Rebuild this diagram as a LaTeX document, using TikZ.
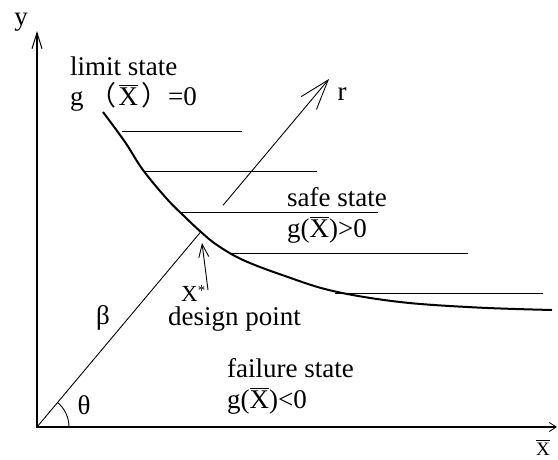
\documentclass[tikz,border=0pt]{standalone}
\usepackage{fontspec}
\setmainfont{Liberation Serif}
\newfontfamily\cjk{Noto Sans CJK SC}
\usetikzlibrary{arrows.meta,calc}
\newcommand{\Xbar}{\leavevmode\vbox{\hrule height 0.9pt\kern 1.6pt\hbox{X}}}
\begin{document}
\begin{tikzpicture}[x=1pt,y=-1pt,
  lbl/.style={font=\fontsize{27}{30}\selectfont, inner sep=0pt, anchor=base west},
  sym/.style={font=\fontsize{27}{30}\selectfont, inner sep=0pt},
  axisline/.style={line width=2.4pt},
  fine/.style={line width=0.9pt},
  hatch/.style={line width=0.9pt},
  curveline/.style={line width=2pt, line join=round}]
\useasboundingbox (0,0) rectangle (558,459);

% coordinates
\coordinate (O) at (37,427);
\coordinate (ytip) at (37,31);
\coordinate (xtip) at (557,427);
\coordinate (R) at (329,79);
\coordinate (dtail) at (208,290);
\coordinate (dtip) at (202,243);

% axes
\draw[axisline,
  {Straight Barb[length=16pt,width=10pt,line width=1pt]}-{Straight Barb[length=7pt,width=9pt,line width=0.8pt]}]
  (ytip) -- (O) -- (xtip);

% limit state curve
\draw[curveline] plot[smooth, tension=0.6] coordinates {
  (103,112) (125,142) (143,170) (167,199) (185,217) (201,232)
  (217,245) (243,260) (285,276) (333,291) (400,302) (477,307.5) (552,310)};

% hatch lines (safe side)
\draw[hatch] (122,131) -- (242,131);
\draw[hatch] (145,171) -- (317,171);
\draw[hatch] (180,212) -- (378,212);
\draw[hatch] (230,253) -- (468,253);
\draw[hatch] (335,293) -- (543,293);

% ray beta and r direction
\draw[fine] (O) -- ($(O)!0.562!(R)$);
\draw[fine,-{Straight Barb[length=30pt,width=20pt,line width=0.9pt]}]
  ($(O)!0.637!(R)$) -- (R);

% theta arc
\draw[fine] ($(O)+(32,0)$) arc[start angle=0,end angle=-50,radius=32];

% design point arrow
\draw[fine,-{Straight Barb[length=13pt,width=10pt,line width=0.9pt]}] (dtail) -- (dtip);

% labels
\node[sym] (ylab) at (21,22) {y};
\node[sym,anchor=base,font=\fontsize{19}{21}\selectfont] (xlab) at (543,455) {\Xbar};
\node[lbl] (lim1) at (70,75) {limit state};
\node[lbl] (lim2) at (70,105) {g\kern6pt{\cjk （}\kern2pt\Xbar\kern3pt{\cjk ）}=0};
\node[lbl] (safe1) at (287,206) {safe state};
\node[lbl] (safe2) at (287,237) {g(\Xbar)>0};
\node[lbl,font=\fontsize{23}{26}\selectfont] (xstar) at (181,301) {X\raisebox{0.25em}{\fontsize{15}{15}\selectfont *}};
\node[lbl] (dp) at (168,325) {design point};
\node[lbl] (fail1) at (227,377) {failure state};
\node[lbl] (fail2) at (227,408) {g(\Xbar)<0};
\node[sym] (beta) at (103,318) {β};
\node[sym] (theta) at (84,405) {θ};
\node[sym] (rlab) at (342,94) {r};
\end{tikzpicture}
\end{document}
